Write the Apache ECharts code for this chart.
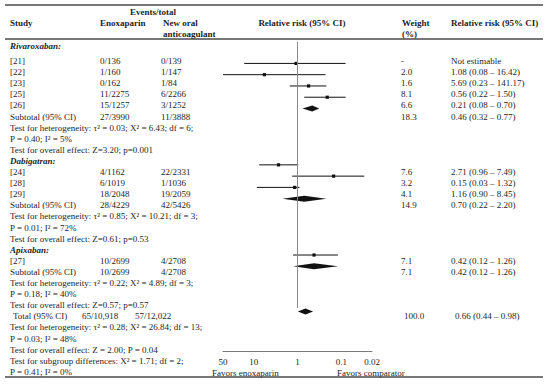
<!DOCTYPE html>
<html><head><meta charset="utf-8">
<script src="https://cdn.jsdelivr.net/npm/echarts@6/dist/echarts.min.js"></script>
<style>html,body{margin:0;padding:0;background:#fff}#chart{width:550px;height:384px}</style>
</head><body><div id="chart"></div>
<script>
// ---------------- data ----------------
const groupNames = ['Rivaroxaban:', 'Dabigatran:', 'Apixaban:'];
const studyIds   = ['[21]', '[22]', '[23]', '[25]', '[26]', '[24]', '[28]', '[29]', '[27]'];
const studyGroup = [0, 0, 0, 0, 0, 1, 1, 1, 2];
const enoxEvents = ['0/136', '1/160', '0/162', '11/2275', '15/1257', '4/1162', '6/1019', '18/2048', '10/2699'];
const noacEvents = ['0/139', '1/147', '1/84', '6/2266', '3/1252', '22/2331', '1/1036', '19/2059', '4/2708'];
const studyWeight = [null, 2.0, 1.6, 8.1, 6.6, 7.6, 3.2, 4.1, 7.1];
const studyRR     = [null, 1.08, 5.69, 0.56, 0.21, 2.71, 0.15, 1.16, 0.42];
const studyLow    = [null, 0.08, 0.23, 0.22, 0.08, 0.96, 0.03, 0.90, 0.12];
const studyHigh   = [null, 16.42, 141.17, 1.50, 0.70, 7.49, 1.32, 8.45, 1.26];

const subEnox   = ['27/3990', '28/4229', '10/2699'];
const subNoac   = ['11/3888', '42/5426', '4/2708'];
const subWeight = [18.3, 14.9, 7.1];
const subRR     = [0.46, 0.70, 0.42];
const subLow    = [0.32, 0.22, 0.12];
const subHigh   = [0.77, 2.20, 1.26];
const subHet    = ['Test for heterogeneity: \u03c4\u00b2 = 0.03; X\u00b2 = 6.43; df = 6;',
                   'Test for heterogeneity: \u03c4\u00b2 = 0.85; X\u00b2 = 10.21; df = 3;',
                   'Test for heterogeneity: \u03c4\u00b2 = 0.22; X\u00b2 = 4.89; df = 3;'];
const subHetP   = ['P = 0.40; I\u00b2 = 5%', 'P = 0.01; I\u00b2 = 72%', 'P = 0.18; I\u00b2 = 40%'];
const subOverall = ['Test for overall effect: Z=3.20; p=0.001',
                    'Test for overall effect: Z=0.61; p=0.53',
                    'Test for overall effect: Z=0.57; p=0.57'];

const totalEnox = '65/10,918';
const totalNoac = '57/12,022';
const totalWeight = 100.0;
const totalRR = 0.66, totalLow = 0.44, totalHigh = 0.98;
const totalLines = ['Test for heterogeneity: \u03c4\u00b2 = 0.28; X\u00b2 = 26.84; df = 13;',
                    'P = 0.03; I\u00b2 = 48%',
                    'Test for overall effect: Z = 2.00; P = 0.04',
                    'Test for subgroup differences: X\u00b2 = 1.71; df = 2;',
                    'P = 0.41; I\u00b2 = 0%'];
const axisTickValues = [50, 10, 1, 0.1, 0.02];
const favorLabels = ['Favors enoxaparin', 'Favors comparator'];

// ---------------- layout / style ----------------
const FONT = '"Liberation Serif", "DejaVu Serif", serif';
const FS = 9;
const C_TEXT = '#1e1e1e';
const ROW0_Y = 61, ROW_H = 11.1, FIRST_HEADER_Y = 46;
const X_STUDY = 10, X_ENOX = 100, X_NOAC = 161, X_W = 401, X_RR = 451;

const graphics = [];
function addText(x, y, s, opt) {
  opt = opt || {};
  const font = (opt.italic ? 'italic ' : '') + (opt.bold ? 'bold ' : '') + FS + 'px ' + FONT;
  graphics.push({
    type: 'text', silent: true,
    style: { x: x, y: y, text: s, font: font, fill: C_TEXT,
             textAlign: opt.align || 'left', textVerticalAlign: 'middle',
             align: opt.align || 'left', verticalAlign: 'middle' }
  });
}
function addRule(y, w) {
  graphics.push({ type: 'line', silent: true, shape: { x1: 5, y1: y, x2: 543, y2: y },
                  style: { stroke: '#4a4a4a', lineWidth: w } });
}
const rowY = k => ROW0_Y + ROW_H * k;
const fmtCI = (r, l, h) => r.toFixed(2) + ' (' + l.toFixed(2) + ' \u2013 ' + h.toFixed(2) + ')';

// header
addRule(5, 1.5);
addText(153, 12, 'Events/total', { bold: true, align: 'center' });
addText(X_STUDY, 23, 'Study', { bold: true });
addText(X_ENOX, 23, 'Enoxaparin', { bold: true });
addText(X_NOAC + 2, 23, 'New oral', { bold: true });
addText(X_NOAC + 2, 34, 'anticoagulant', { bold: true });
addText(302, 23, 'Relative risk (95% CI)', { bold: true, align: 'center' });
addText(X_W + 1, 23, 'Weight', { bold: true });
addText(X_W + 1, 34, '(%)', { bold: true });
addText(X_RR, 23, 'Relative risk (95% CI)', { bold: true });
addRule(39, 1.5);

const studyPts = [];
const diamondPts = [];
let k = 0;
groupNames.forEach((g, gi) => {
  const hy = gi === 0 ? FIRST_HEADER_Y : rowY(k++);
  addText(X_STUDY, hy, g, { bold: true, italic: true });
  studyIds.forEach((id, i) => {
    if (studyGroup[i] !== gi) return;
    const y = rowY(k);
    addText(X_STUDY, y, id);
    addText(X_ENOX, y, enoxEvents[i]);
    addText(X_NOAC, y, noacEvents[i]);
    addText(X_W, y, studyWeight[i] == null ? '-' : studyWeight[i].toFixed(1));
    addText(X_RR, y, studyRR[i] == null ? 'Not estimable' : fmtCI(studyRR[i], studyLow[i], studyHigh[i]));
    if (studyRR[i] != null) studyPts.push([studyRR[i], studyLow[i], studyHigh[i], k]);
    k++;
  });
  let y = rowY(k);
  addText(X_STUDY, y, 'Subtotal (95% CI)');
  addText(X_ENOX, y, subEnox[gi]);
  addText(X_NOAC, y, subNoac[gi]);
  addText(X_W, y, subWeight[gi].toFixed(1));
  addText(X_RR, y, fmtCI(subRR[gi], subLow[gi], subHigh[gi]));
  diamondPts.push([subRR[gi], subLow[gi], subHigh[gi], k]);
  k++;
  addText(X_STUDY, rowY(k++), subHet[gi]);
  addText(X_STUDY, rowY(k++), subHetP[gi]);
  addText(X_STUDY, rowY(k++), subOverall[gi]);
});
// total
{
  const y = rowY(k);
  addText(X_STUDY + 3, y, 'Total (95% CI)');
  addText(82, y, totalEnox);
  addText(135, y, totalNoac);
  addText(X_W + 3, y, totalWeight.toFixed(1));
  addText(X_RR + 4, y, fmtCI(totalRR, totalLow, totalHigh));
  diamondPts.push([totalRR, totalLow, totalHigh, k]);
  k++;
  totalLines.forEach(t => addText(X_STUDY, rowY(k++), t));
}
addText(212, 373, favorLabels[0]);
addText(337, 373, favorLabels[1]);
addRule(377, 1.5);

// ---------------- chart ----------------
function clipX(a, b, cs) {
  const lo = Math.max(Math.min(a, b), cs.x), hi = Math.min(Math.max(a, b), cs.x + cs.width);
  return [lo, hi];
}
const chart = echarts.init(document.getElementById('chart'), null, { renderer: 'svg' });
chart.setOption({
  animation: false,
  backgroundColor: '#fff',
  graphic: { elements: graphics },
  grid: { left: 223, width: 149, top: 42, height: 266, containLabel: false },
  xAxis: {
    type: 'log', logBase: 10, inverse: true,
    min: Math.min.apply(null, axisTickValues), max: Math.max.apply(null, axisTickValues),
    offset: 43,
    axisLine: { onZero: false, lineStyle: { color: '#7a7a7a', width: 1 } },
    axisTick: { show: false }, splitLine: { show: false },
    axisLabel: { fontFamily: FONT, fontSize: FS, color: C_TEXT, margin: 6,
                 showMinLabel: true, showMaxLabel: true,
                 formatter: v => String(+(+v).toPrecision(2)) }
  },
  yAxis: { type: 'value', inverse: true, min: -0.9, max: 22.7, show: false },
  series: [
    {
      type: 'custom', name: 'studies', clip: false,
      encode: { x: [0, 1, 2], y: 3 },
      data: studyPts,
      renderItem: (params, api) => {
        const row = api.value(3);
        const p = api.coord([api.value(0), row]);
        const l = api.coord([api.value(1), row]);
        const h = api.coord([api.value(2), row]);
        const cx = clipX(l[0], h[0], params.coordSys);
        return { type: 'group', children: [
          { type: 'line', shape: { x1: cx[0], y1: p[1], x2: cx[1], y2: p[1] },
            style: { stroke: '#111', lineWidth: 1 } },
          { type: 'rect', shape: { x: p[0] - 1.6, y: p[1] - 1.6, width: 3.2, height: 3.2 },
            style: { fill: '#111' } }
        ] };
      },
      markLine: {
        silent: true, symbol: ['none', 'none'], label: { show: false },
        lineStyle: { color: '#8a8a8a', type: 'solid', width: 1 },
        data: [{ xAxis: 1 }]
      }
    },
    {
      type: 'custom', name: 'pooled', clip: false,
      encode: { x: [0, 1, 2], y: 3 },
      data: diamondPts,
      renderItem: (params, api) => {
        const row = api.value(3);
        const p = api.coord([api.value(0), row]);
        const l = api.coord([api.value(1), row]);
        const h = api.coord([api.value(2), row]);
        const hh = 3;
        return { type: 'polygon',
          shape: { points: [[l[0], p[1]], [p[0], p[1] - hh], [h[0], p[1]], [p[0], p[1] + hh]] },
          style: { fill: '#111' } };
      }
    }
  ]
});
</script></body></html>
